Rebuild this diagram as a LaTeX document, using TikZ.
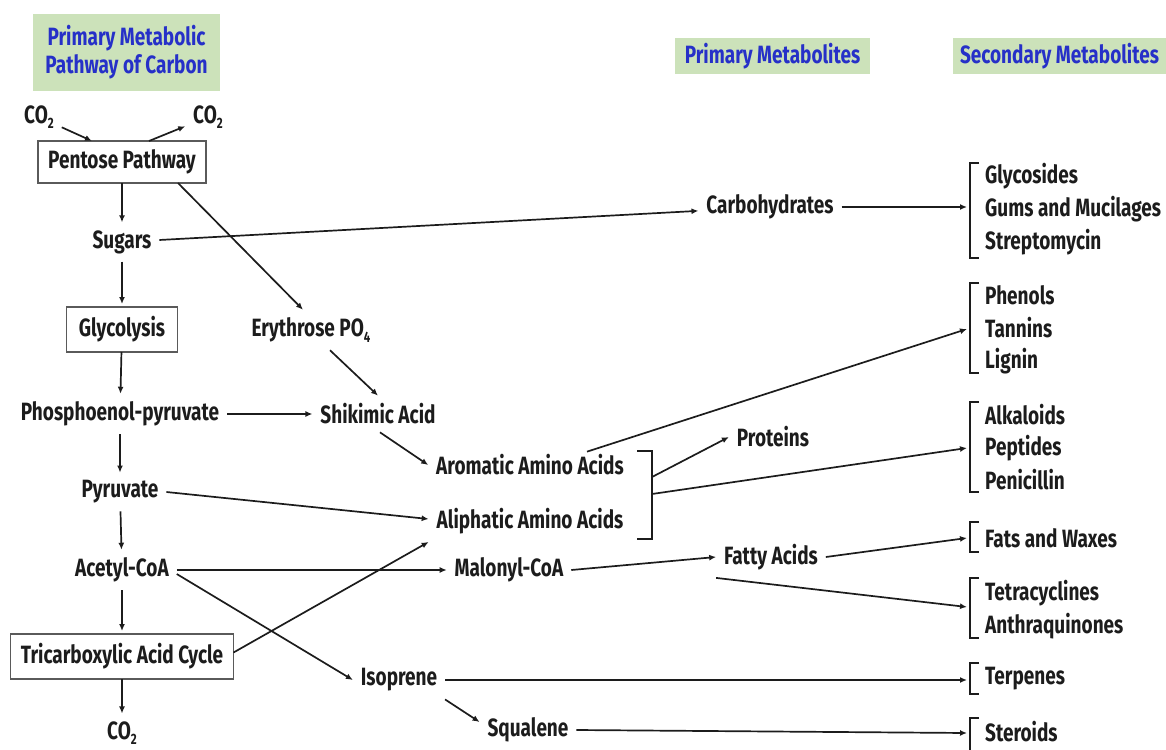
\documentclass[tikz,border=0pt]{standalone}
\usepackage{fontspec}
\setmainfont{Fira Sans}[FakeStretch=0.76]
\usetikzlibrary{arrows.meta}
\definecolor{hdrgreen}{RGB}{204,226,186}
\definecolor{hdrblue}{RGB}{38,48,200}
\definecolor{ink}{RGB}{28,28,28}
\definecolor{boxline}{RGB}{90,90,90}
\newcommand{\subs}[1]{\raisebox{-0.4ex}{\fontsize{15}{15}\selectfont #1}}
\begin{document}
\begin{tikzpicture}[x=1pt,y=-1pt,
  every node/.style={font=\fontsize{25}{28}\selectfont\bfseries, text=ink, inner sep=0pt},
  lbl/.style={outer sep=8pt},
  item/.style={anchor=west},
  boxed/.style={draw=boxline, line width=1.1pt, fill=white, outer sep=0pt},
  hdr/.style={fill=hdrgreen, text=hdrblue, align=center},
  arr/.style={draw=ink, line width=1.7pt, -{Latex[length=7pt,width=6pt]}},
  brk/.style={draw=ink, line width=1.5pt}]
\useasboundingbox (0,0) rectangle (1166,749);

% headers
\node[hdr, minimum width=187, minimum height=77] (h1) at (126.5,52.5) {Primary Metabolic\\Pathway of Carbon};
\node[hdr, minimum width=195, minimum height=36] (h2) at (772.5,56) {Primary Metabolites};
\node[hdr, minimum width=213, minimum height=36] (h3) at (1059.5,56) {Secondary Metabolites};

% left column
\node[lbl] (co2a) at (39,117) {CO\subs{2}};
\node[lbl] (co2b) at (208,117) {CO\subs{2}};
\node[boxed, minimum width=168, minimum height=42] (pent) at (122,162) {Pentose Pathway};
\node[lbl] (sugars) at (122,242) {Sugars};
\node[boxed, minimum width=111, minimum height=45] (glyc) at (122,329.5) {Glycolysis};
\node[lbl] (pep) at (120,414) {Phosphoenol-pyruvate};
\node[lbl] (pyr) at (120,492) {Pyruvate};
\node[lbl] (acoa) at (122,570) {Acetyl-CoA};
\node[boxed, minimum width=223, minimum height=45] (tca) at (122,656.5) {Tricarboxylic Acid Cycle};
\node[lbl] (co2c) at (122,733) {CO\subs{2}};

% middle
\node[lbl] (eryth) at (311,330) {Erythrose PO\subs{4}};
\node[lbl] (shik) at (378,414) {Shikimic Acid};
\node[lbl] (arom) at (530,465) {Aromatic Amino Acids};
\node[lbl] (aliph) at (530,521) {Aliphatic Amino Acids};
\node[lbl] (prot) at (773,437) {Proteins};
\node[lbl] (malo) at (509,570) {Malonyl-CoA};
\node[lbl] (fatty) at (771,557) {Fatty Acids};
\node[lbl] (iso) at (399,680) {Isoprene};
\node[lbl] (squal) at (528,730) {Squalene};
\node[lbl] (carb) at (770,207) {Carbohydrates};

% right lists
\node[item] (glyco) at (985,176) {Glycosides};
\node[item] (gums) at (985,209) {Gums and Mucilages};
\node[item] (strep) at (985,242) {Streptomycin};
\node[item] (phen) at (985,295) {Phenols};
\node[item] (tann) at (985,328) {Tannins};
\node[item] (lign) at (985,361) {Lignin};
\node[item] (alka) at (985,415) {Alkaloids};
\node[item] (pept) at (985,448) {Peptides};
\node[item] (peni) at (985,480) {Penicillin};
\node[item] (fats) at (985,538) {Fats and Waxes};
\node[item] (tetr) at (985,593) {Tetracyclines};
\node[item] (anth) at (985,626) {Anthraquinones};
\node[item] (terp) at (985,679) {Terpenes};
\node[item] (ster) at (985,732) {Steroids};

% brackets on the right
\draw[brk] (979,163) -- (970,163) -- (970,258) -- (979,258);
\draw[brk] (979,283) -- (970,283) -- (970,373) -- (979,373);
\draw[brk] (979,402) -- (970,402) -- (970,492) -- (979,492);
\draw[brk] (979,522) -- (970,522) -- (970,552) -- (979,552);
\draw[brk] (979,578) -- (970,578) -- (970,638) -- (979,638);
\draw[brk] (979,663) -- (970,663) -- (970,694) -- (979,694);
\draw[brk] (979,718) -- (970,718) -- (970,752);
\coordinate (gB) at (967,207);
\coordinate (phB) at (967,329);
\coordinate (alB) at (967,448);
\coordinate (faB) at (967,538);
\coordinate (teB) at (967,607);
\coordinate (tpB) at (967,680);
\coordinate (stB) at (967,733);

% amino acid bracket
\draw[brk] (637,451) -- (652,451) -- (652,539) -- (637,539);
\coordinate (abr1) at (652,477);
\coordinate (abr2) at (652,494);

% connectors: left column
\draw[arr] (co2a) -- ([xshift=-30pt]pent.north);
\draw[arr] ([xshift=27pt]pent.north) -- (co2b);
\draw[arr] (pent) -- (sugars);
\draw[arr, shorten >=3pt] (sugars) -- (glyc);
\draw[arr] (glyc) -- (pep);
\draw[arr] (pep) -- (pyr);
\draw[arr] (pyr) -- (acoa);
\draw[arr, shorten >=3pt] (acoa) -- (tca);
\draw[arr] (tca) -- (co2c);

% connectors: middle
\draw[arr] ([xshift=56pt]pent.south) -- ([xshift=-8pt]eryth.north);
\draw[arr] (sugars) -- (carb);
\draw[arr] (carb) -- (gB);
\draw[arr] (pep) -- (shik);
\draw[arr] ([xshift=19pt]eryth.south) -- (shik.north);
\draw[arr] ([xshift=2pt]shik.south) -- (arom.west);
\draw[arr] (pyr.east) -- ([yshift=2pt]aliph.west);
\draw[arr] ([yshift=4pt]tca.east) -- (aliph.south west);
\draw[arr] (acoa) -- (malo);
\draw[arr] ([yshift=-4pt]acoa.east) -- (iso.west);
\draw[arr] (iso.east) -- (tpB);
\draw[arr] (iso.south east) -- ([yshift=8pt]squal.west);
\draw[arr] (squal.east) -- (stB);
\draw[arr] (malo.east) -- (fatty.west);
\draw[arr] (fatty.east) -- (faB);
\draw[arr] (fatty.south west) -- (teB);
\draw[arr] (abr1) -- (prot.west);
\draw[arr] (abr2) -- (alB);
\draw[arr] ([xshift=57pt,yshift=-5pt]arom.north) -- (phB);
\end{tikzpicture}
\end{document}
